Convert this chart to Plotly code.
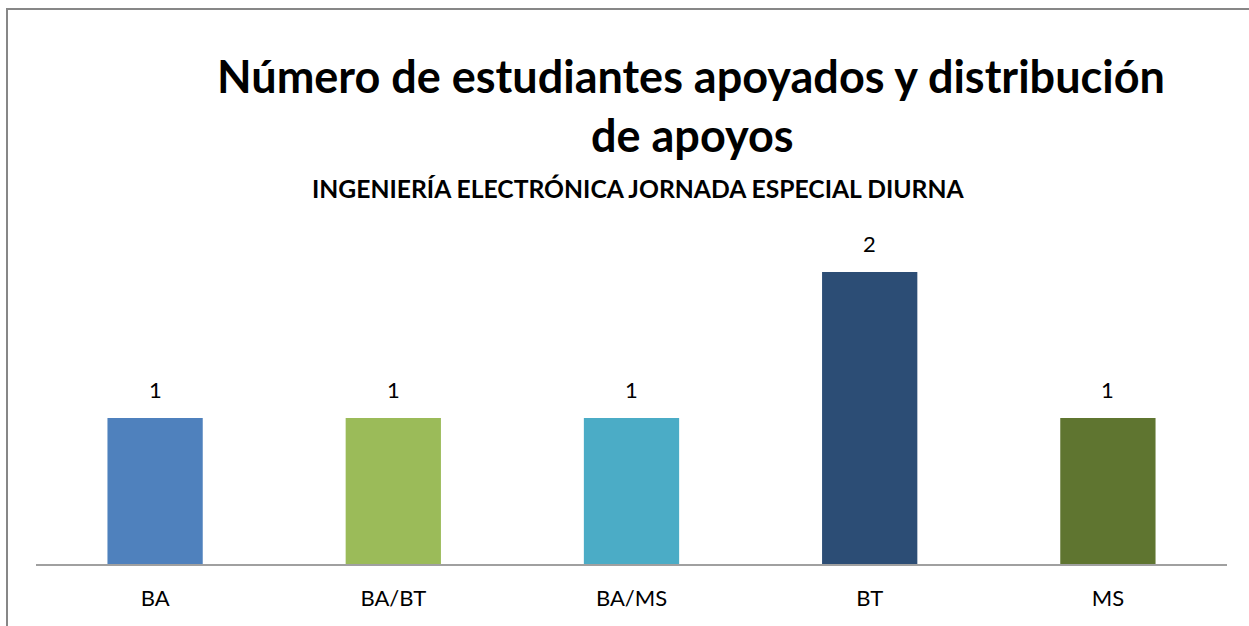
import plotly.graph_objects as go

categories = ["BA", "BA/BT", "BA/MS", "BT", "MS"]
values = [1, 1, 1, 2, 1]
colors = ["#4F81BD", "#9BBB59", "#4BACC6", "#2C4D75", "#5F7530"]
title_line1 = "Número de estudiantes apoyados y distribución"
title_line2 = "de apoyos"
subtitle = "INGENIERÍA ELECTRÓNICA JORNADA ESPECIAL DIURNA"

W, H = 1249, 626
FONT = "Lato"

fig = go.Figure()
fig.add_trace(go.Bar(
    x=categories, y=values, marker_color=colors, marker_line_width=0,
    cliponaxis=False, hoverinfo="x+y",
))

def px(x):
    return x / W

def py(y):
    return 1 - y / H

annotations = [
    dict(text="<b>" + title_line1 + "</b>", x=px(691), y=py(76), xref="paper", yref="paper",
         showarrow=False, font=dict(family=FONT, size=45, color="#000000"),
         xanchor="center", yanchor="middle"),
    dict(text="<b>" + title_line2 + "</b>", x=px(692), y=py(135), xref="paper", yref="paper",
         showarrow=False, font=dict(family=FONT, size=45, color="#000000"),
         xanchor="center", yanchor="middle"),
    dict(text="<b>" + subtitle + "</b>", x=px(638), y=py(188), xref="paper", yref="paper",
         showarrow=False, font=dict(family=FONT, size=24.7, color="#000000"),
         xanchor="center", yanchor="middle"),
]
for c, v in zip(categories, values):
    annotations.append(dict(text=str(v), x=c, y=v, xref="x", yref="y", showarrow=False,
                            yshift=28, xanchor="center", yanchor="middle",
                            font=dict(family=FONT, size=22, color="#000000")))

fig.update_layout(
    width=W, height=H, margin=dict(l=0, r=0, t=0, b=0),
    paper_bgcolor="white", plot_bgcolor="white", showlegend=False,
    bargap=0.6,
    xaxis=dict(domain=[px(36), px(1227)], showgrid=False, showline=True,
               linecolor="#A0A0A0", linewidth=2, ticks="", ticklabelstandoff=14,
               tickfont=dict(family=FONT, size=22, color="#000000")),
    yaxis=dict(domain=[py(564), py(200)], range=[0, 364 / 146], visible=False,
               showgrid=False, zeroline=False),
    shapes=[
        dict(type="line", xref="paper", yref="paper",
             x0=px(7), x1=px(7), y0=0, y1=py(8),
             line=dict(color="#878787", width=2)),
        dict(type="line", xref="paper", yref="paper",
             x0=px(6), x1=1, y0=py(9), y1=py(9),
             line=dict(color="#878787", width=2)),
    ],
    annotations=annotations,
)

fig.write_html("out.html", config={"displayModeBar": False},
               post_script="document.body.style.margin='0';document.body.style.overflow='hidden';")
